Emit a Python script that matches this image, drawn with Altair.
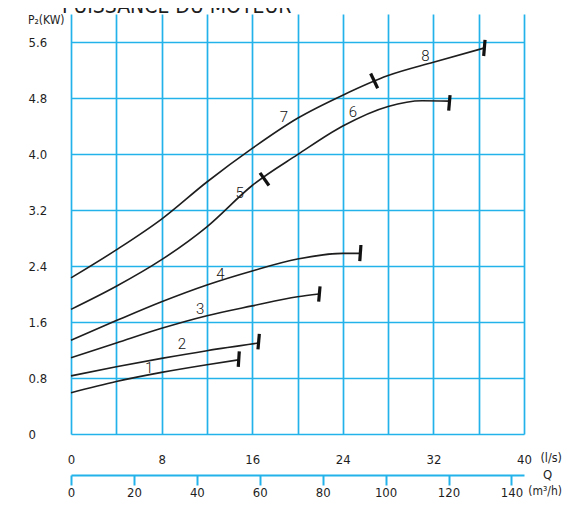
import altair as alt
import pandas as pd

FONT = "DejaVu Sans Condensed, Liberation Sans Narrow, Roboto, sans-serif"
GRID = "#23b3ea"
INK = "#1e1e1e"

# Curves: flow Q (l/s) and power P2 (kW)
q1 = [0, 4, 8, 12, 14.8]
p1 = [0.59, 0.75, 0.88, 0.99, 1.06]
q2 = [0, 4, 8, 12, 16.6]
p2 = [0.83, 0.96, 1.08, 1.19, 1.30]
q3 = [0, 4, 8, 12, 16, 20, 21.9]
p3 = [1.09, 1.30, 1.51, 1.69, 1.83, 1.96, 2.00]
q4 = [0, 4, 8, 12, 16, 20, 24, 25.5]
p4 = [1.34, 1.62, 1.89, 2.13, 2.33, 2.50, 2.58, 2.58]
q56 = [0, 4, 8, 12, 16, 20, 24, 28, 31, 33.4]
p56 = [1.78, 2.11, 2.49, 2.96, 3.55, 3.99, 4.40, 4.68, 4.76, 4.755]
q78 = [0, 4, 8, 12, 16, 20, 24, 28, 32, 36.4]
p78 = [2.23, 2.63, 3.07, 3.60, 4.08, 4.51, 4.84, 5.12, 5.31, 5.51]

# Limit / transition marks (segment start and end)
tick_q = [14.86, 16.63, 21.99, 25.6, 33.47, 36.56, 16.69, 26.46]
tick_p = [1.18, 1.43, 2.11, 2.70, 4.84, 5.63, 3.73, 5.15]
tick_q2 = [14.77, 16.51, 21.87, 25.5, 33.35, 36.44, 17.48, 27.08]
tick_p2 = [0.96, 1.21, 1.89, 2.47, 4.62, 5.40, 3.55, 4.94]

# Curve numbers
lab_text = ["1", "2", "3", "4", "5", "6", "7", "8"]
lab_q = [6.9, 9.8, 11.4, 13.2, 14.9, 24.9, 18.8, 31.3]
lab_p = [0.95, 1.28, 1.79, 2.29, 3.44, 4.60, 4.53, 5.40]

# Axis ticks
x_vals = [0, 4, 8, 12, 16, 20, 24, 28, 32, 36, 40]
y_vals = [round(0.4 * i, 1) for i in range(16)]
m3h_vals = [0, 20, 40, 60, 80, 100, 120, 140]

rows = []
for name, qs, ps in [("1", q1, p1), ("2", q2, p2), ("3", q3, p3), ("4", q4, p4),
                     ("5-6", q56, p56), ("7-8", q78, p78)]:
    for q, p in zip(qs, ps):
        rows.append({"curve": name, "q": q, "p": p})
curves_df = pd.DataFrame(rows)
ticks_df = pd.DataFrame({"q": tick_q, "p": tick_p, "q2": tick_q2, "p2": tick_p2})
labels_df = pd.DataFrame({"t": lab_text, "q": lab_q, "p": lab_p})

xscale = alt.Scale(domain=[0, 40], nice=False, zero=True)
yscale = alt.Scale(domain=[0, 6], nice=False)

x_axis = alt.Axis(values=x_vals, grid=True, gridColor=GRID, gridWidth=1.7,
                  domain=False, ticks=False, title=None, format="d",
                  labelExpr="datum.value % 8 == 0 ? datum.label : ''",
                  labelFont=FONT, labelFontSize=13, labelColor=INK,
                  labelPadding=19, labelFlush=False, labelOverlap=False)
y_axis = alt.Axis(values=y_vals, grid=True, gridColor=GRID, gridWidth=1.7,
                  domain=False, ticks=False, title=None,
                  labelExpr="round(datum.value*10) % 8 == 0 ? (datum.value == 0 ? '0' : format(datum.value, '.1f')) : ''",
                  labelFont=FONT, labelFontSize=13, labelColor=INK,
                  labelAlign="left", labelPadding=43, labelFlush=False, labelOverlap=False)

lines = alt.Chart(curves_df).mark_line(interpolate="monotone", color=INK, strokeWidth=1.6).encode(
    x=alt.X("q:Q", scale=xscale, axis=x_axis),
    y=alt.Y("p:Q", scale=yscale, axis=y_axis),
    detail="curve:N",
)

ticks = alt.Chart(ticks_df).mark_rule(color="#111111", strokeWidth=3.2, strokeCap="butt").encode(
    x="q:Q", y="p:Q", x2="q2:Q", y2="p2:Q"
)

labels = alt.Chart(labels_df).mark_text(font="Roboto", fontSize=15, fontWeight=300, color="#111111").encode(
    x="q:Q", y="p:Q", text="t:N"
)

def note(txt, x, y, size=13, align="left", baseline="middle"):
    return alt.Chart(pd.DataFrame({"t": [txt]})).mark_text(
        font=FONT, fontSize=size, color=INK, align=align, baseline=baseline
    ).encode(x=alt.value(x), y=alt.value(y), text="t:N")

notes = [
    note("PUISSANCE DU MOTEUR", -9, -0.7, size=21, baseline="alphabetic"),
    note("P₂(KW)", -43, 6, size=12),
    note("(l/s)", 491, 444, size=12.5, align="right"),
    note("Q", 472, 461),
    note("(m³/h)", 491, 477, size=12, align="right"),
]

inner = alt.layer(lines, ticks, labels, *notes)

m3h_df = pd.DataFrame({"m": [0, 144]})
axis2 = alt.Chart(m3h_df).mark_point(opacity=0).encode(
    x=alt.X("m:Q", scale=alt.Scale(domain=[0, 144], nice=False),
            axis=alt.Axis(orient="bottom", offset=41, values=m3h_vals, grid=False,
                          domain=True, domainColor=GRID, domainWidth=2,
                          ticks=True, tickColor=GRID, tickWidth=2, tickSize=10,
                          title=None, labelFont=FONT, labelFontSize=13, labelColor=INK,
                          labelPadding=1, labelFlush=False, labelOverlap=False))
)

chart = alt.layer(inner, axis2).resolve_scale(x="independent").properties(
    width=453, height=420,
    autosize=alt.AutoSizeParams(type="none"),
    padding={"left": 63, "top": 6, "right": 38, "bottom": 65},
).configure_view(stroke=None)

chart.save("out.html", embed_options={"renderer": "svg", "actions": False})
